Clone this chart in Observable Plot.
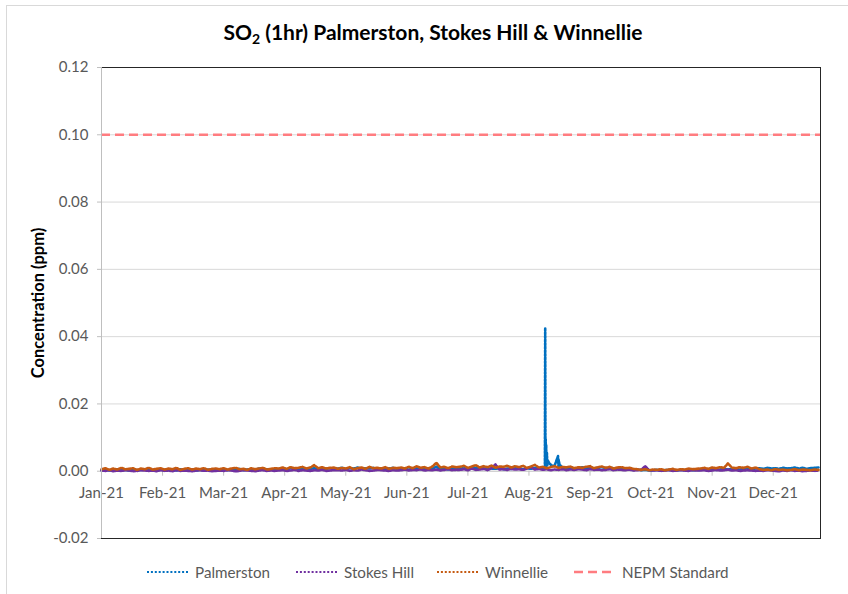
<!DOCTYPE html>
<html><head><meta charset="utf-8">
<script src="https://cdn.jsdelivr.net/npm/d3@7"></script>
<script src="https://cdn.jsdelivr.net/npm/@observablehq/plot@0.6"></script>
<style>
body{margin:0;background:#fff;}
#wrap{position:relative;width:848px;height:594px;overflow:hidden;font-family:Lato,"Open Sans",sans-serif;}
#border{position:absolute;left:6px;top:5px;width:860px;height:620px;border:1px solid #d9d9d9;box-sizing:border-box;}
#title{position:absolute;left:0;top:19px;width:866px;text-align:center;font-weight:bold;font-size:21px;color:#000;}
#title sub{font-size:14px;vertical-align:-4px;line-height:0;}
#chart{position:absolute;left:0;top:55px;}
#legend{position:absolute;left:0;top:561px;width:848px;height:22px;}
.item{position:absolute;top:0;height:22px;display:flex;align-items:center;font-size:15.2px;color:#595959;white-space:nowrap;}
.item svg{display:block;}
</style></head>
<body>
<div id="wrap">
  <div id="border"></div>
  <div id="title">SO<sub>2</sub> (1hr) Palmerston, Stokes Hill &amp; Winnellie</div>
  <div id="chart"></div>
  <div id="legend"></div>
</div>
<script>
// ---------- data (ppb = 0.001 ppm), one value every 2 days from 1 Jan 2021 ----------
const seriesNames = ["Palmerston", "Stokes Hill", "Winnellie"];
const seriesColors = ["#0070C0", "#7030A0", "#C55A11"];
const nepmName = "NEPM Standard";
const nepmColor = "#FF7C80";
const nepmStandard = 0.10;

const palmerstonPpb = [
  0.3,0.5,0.2,0.4,0.6,0.3,0.4,0.2,0.5,0.3,0.4,0.6,0.3,0.2,0.4,0.5,
  0.3,0.5,0.4,0.2,0.6,0.3,0.4,0.5,0.2,0.4,0.3,0.5,0.4,0.3,
  0.4,0.6,0.3,0.5,0.4,0.7,0.3,0.5,0.6,0.4,0.8,0.5,0.6,0.4,0.7,
  0.6,0.8,0.5,0.9,0.7,0.6,0.8,0.5,0.7,0.9,0.6,0.8,0.7,0.9,0.6,
  0.8,1.0,0.7,0.9,0.8,1.1,0.7,0.9,0.8,1.0,0.6,0.9,0.7,0.8,1.0,0.7,
  0.6,0.8,0.5,0.7,0.9,0.6,0.8,0.5,0.7,1.4,0.6,0.8,0.5,0.7,0.6,
  0.7,0.9,0.6,0.8,1.0,0.7,0.9,0.6,0.8,0.7,0.9,0.6,0.8,0.7,0.9,
  0.8,0.6,0.9,0.7,1.0,0.8,0.7,1.8,2.0,1.6,1.2,1.0,0.9,1.1,0.8,0.9,
  1.2,0.9,1.1,0.8,1.0,1.2,0.9,1.1,0.8,0.7,0.9,0.6,0.5,0.4,0.5,
  0.3,0.4,0.2,0.3,0.4,0.2,0.3,0.4,0.3,0.2,0.4,0.3,0.5,0.3,0.4,
  0.4,0.5,0.3,0.6,0.4,0.5,0.7,0.5,0.6,0.8,0.5,0.7,0.9,0.6,0.8,
  0.9,0.7,1.0,0.8,0.9,0.7,1.0,0.8,0.9,1.1,0.8,1.0,0.7,0.9,1.0,1.1
];
// hourly readings around the August event at Palmerston
const palmerstonSpikeTimes = [
  "2021-08-14T02:00Z","2021-08-14T06:00Z","2021-08-14T09:00Z","2021-08-14T12:00Z",
  "2021-08-14T15:00Z","2021-08-14T18:00Z","2021-08-14T21:00Z","2021-08-15T03:00Z",
  "2021-08-15T08:00Z","2021-08-15T14:00Z","2021-08-16T06:00Z","2021-08-17T12:00Z",
  "2021-08-20T18:00Z","2021-08-21T02:00Z","2021-08-21T12:00Z"
];
const palmerstonSpikePpb = [0.9,42.6,1.2,9.5,2.0,7.8,1.5,5.4,1.8,3.2,2.4,1.6,4.5,3.3,2.0];

const stokesHillPpb = [
  0.2,0.1,0.3,0.0,0.2,0.1,0.3,0.2,0.0,0.1,0.3,0.2,0.1,0.2,0.0,0.3,
  0.1,0.2,0.0,0.3,0.1,0.2,0.1,0.0,0.2,0.3,0.1,0.2,0.0,0.1,
  0.2,0.1,0.3,0.2,0.0,0.1,0.3,0.2,0.1,0.0,0.2,0.3,0.1,0.2,0.1,
  0.2,0.3,0.1,0.2,0.4,0.1,0.3,0.2,0.1,0.3,0.2,0.4,0.1,0.2,0.3,
  0.3,0.2,0.4,0.1,0.3,0.2,0.5,0.3,0.1,0.2,0.4,0.3,0.2,0.1,0.3,0.2,
  0.3,0.5,0.2,0.4,0.3,0.6,0.2,0.4,0.3,0.5,0.2,0.4,0.6,0.3,0.4,
  0.4,0.6,0.3,0.8,0.4,0.5,0.7,0.3,0.9,2.0,0.5,0.6,0.4,0.7,0.5,
  0.6,0.4,0.8,1.2,0.5,0.7,0.4,0.6,0.3,0.5,0.4,0.6,0.3,0.5,0.4,0.6,
  0.5,0.3,0.6,0.4,0.5,0.3,0.4,0.6,0.3,0.5,0.4,0.3,0.5,0.2,0.3,
  0.4,1.5,0.3,0.2,0.3,0.1,0.2,0.3,0.1,0.2,0.3,0.2,0.1,0.3,0.2,
  0.2,0.3,0.1,0.2,0.4,0.2,0.3,0.5,0.2,0.3,0.1,0.2,0.3,0.2,0.1,
  0.2,0.1,0.3,0.2,0.1,0.0,0.2,0.1,0.3,0.1,0.2,0.0,0.1,0.2,0.1,0.2
];

const winnelliePpb = [
  0.6,0.9,0.4,0.8,0.5,1.0,0.6,0.7,0.9,0.4,0.8,0.6,1.0,0.5,0.7,0.9,
  0.5,0.8,0.6,1.0,0.4,0.7,0.9,0.5,0.8,0.6,0.9,0.4,0.7,0.8,
  0.6,0.9,0.5,0.8,1.0,0.6,0.7,0.4,0.9,0.6,0.8,1.0,0.5,0.7,0.9,
  0.8,1.1,0.7,1.2,0.9,1.0,1.3,0.8,1.1,1.8,0.9,1.2,0.8,1.0,1.1,
  0.7,1.0,0.8,1.2,0.6,0.9,1.1,0.7,1.3,0.9,1.0,0.8,1.2,0.7,1.0,0.9,
  1.1,0.8,1.3,0.9,1.5,1.0,1.2,0.8,1.4,2.5,1.1,1.3,0.9,1.4,1.2,
  1.3,1.6,1.0,1.4,1.8,1.1,1.5,1.2,1.7,1.0,1.4,1.3,1.6,1.1,1.5,
  1.2,1.6,1.0,1.4,1.9,1.1,1.3,0.9,1.2,1.5,1.0,1.3,1.1,1.4,0.9,1.2,
  1.0,1.3,1.5,0.9,1.2,1.4,1.0,1.3,0.8,1.1,1.2,0.9,1.0,0.7,0.6,
  0.4,0.6,0.3,0.5,0.4,0.6,0.3,0.5,0.7,0.4,0.6,0.5,0.8,0.6,0.7,
  0.8,1.0,0.7,1.1,0.9,1.2,1.0,2.3,1.1,0.9,1.2,1.0,1.3,0.8,1.1,
  0.6,0.4,0.5,0.3,0.6,0.4,0.5,0.3,0.4,0.6,0.3,0.5,0.4,0.3,0.5,0.4
];

const yTicks = [-0.02, 0, 0.02, 0.04, 0.06, 0.08, 0.10, 0.12];
const xTickDates = ["2021-01-01","2021-02-01","2021-03-04","2021-04-04","2021-05-05","2021-06-05",
                    "2021-07-06","2021-08-06","2021-09-06","2021-10-07","2021-11-07","2021-12-08"];
const xTickLabels = ["Jan-21","Feb-21","Mar-21","Apr-21","May-21","Jun-21",
                     "Jul-21","Aug-21","Sep-21","Oct-21","Nov-21","Dec-21"];

// ---------- build tables ----------
const start = new Date(Date.UTC(2021, 0, 1));
const end = new Date(Date.UTC(2022, 0, 1));
const baseDates = palmerstonPpb.map((_, i) => d3.utcDay.offset(start, 2 * i));
const toRows = (dates, vals) => vals.map((v, i) => ({date: dates[i], ppm: v / 1000}));
const palm = toRows(baseDates, palmerstonPpb)
  .concat(toRows(palmerstonSpikeTimes.map(s => new Date(s)), palmerstonSpikePpb))
  .sort((a, b) => a.date - b.date);
const stokes = toRows(baseDates, stokesHillPpb);
const winn = toRows(baseDates, winnelliePpb);
const seriesData = [palm, stokes, winn];
const tickDates = xTickDates.map(s => new Date(s + "T00:00Z"));
const fmtY = d3.formatLocale({decimal: ".", thousands: ",", grouping: [3], currency: ["", ""], minus: "-"}).format(".2f");

const lineMarks = seriesData.map((d, k) =>
  Plot.line(d, {x: "date", y: "ppm", stroke: seriesColors[k], strokeWidth: 2.6, strokeDasharray: "2.2,1.4"}));

const chart = Plot.plot({
  width: 848, height: 500,
  marginLeft: 101, marginRight: 28, marginTop: 12, marginBottom: 17,
  style: {fontFamily: "Lato, 'Open Sans', sans-serif", fontSize: "15px", color: "#595959", background: "transparent", overflow: "visible"},
  x: {type: "utc", domain: [start, end], axis: null},
  y: {domain: [-0.02, 0.12], axis: null},
  marks: [
    Plot.ruleY(yTicks.filter(t => t > 0), {stroke: "#d9d9d9"}),
    Plot.ruleY([0], {stroke: "#bfbfbf"}),
    Plot.ruleX(tickDates, {x: d => d, y1: 0, y2: 0, insetBottom: -5, stroke: "#bfbfbf"}),
    Plot.text(tickDates, {x: d => d, y: 0, dy: 22, text: (d, i) => xTickLabels[i], fill: "#595959", fontSize: 15}),
    Plot.axisY({ticks: yTicks, tickFormat: fmtY, tickSize: 4, tickPadding: 9, stroke: "#bfbfbf", fill: "#595959", fontSize: 15, label: null}),
    ...lineMarks,
    Plot.ruleY([nepmStandard], {stroke: nepmColor, strokeWidth: 2.5, strokeDasharray: "9,5"}),
    Plot.frame({stroke: "#262626"}),
    Plot.ruleX([start], {stroke: "#bfbfbf"}),
    Plot.text(["Concentration (ppm)"], {text: d => d, frameAnchor: "left", textAnchor: "middle", dx: -63, rotate: -90, fontWeight: "bold", fill: "#000", fontSize: 16.5})
  ]
});
document.getElementById("chart").appendChild(chart);

// ---------- legend ----------
const legend = document.getElementById("legend");
const legendLefts = [147, 296, 437, 574];
const legendItems = seriesNames.map((n, k) => ({name: n, color: seriesColors[k], dash: "2,1.9", w: 2}))
  .concat([{name: nepmName, color: nepmColor, dash: "9,5", w: 2.5}]);
legendItems.forEach((it, k) => {
  const div = document.createElement("div");
  div.className = "item";
  div.style.left = legendLefts[k] + "px";
  div.innerHTML = `<svg width="48" height="22"><line x1="0" x2="42" y1="11" y2="11" stroke="${it.color}" stroke-width="${it.w}" stroke-dasharray="${it.dash}"/></svg><span>${it.name}</span>`;
  legend.appendChild(div);
});
</script>
</body></html>
